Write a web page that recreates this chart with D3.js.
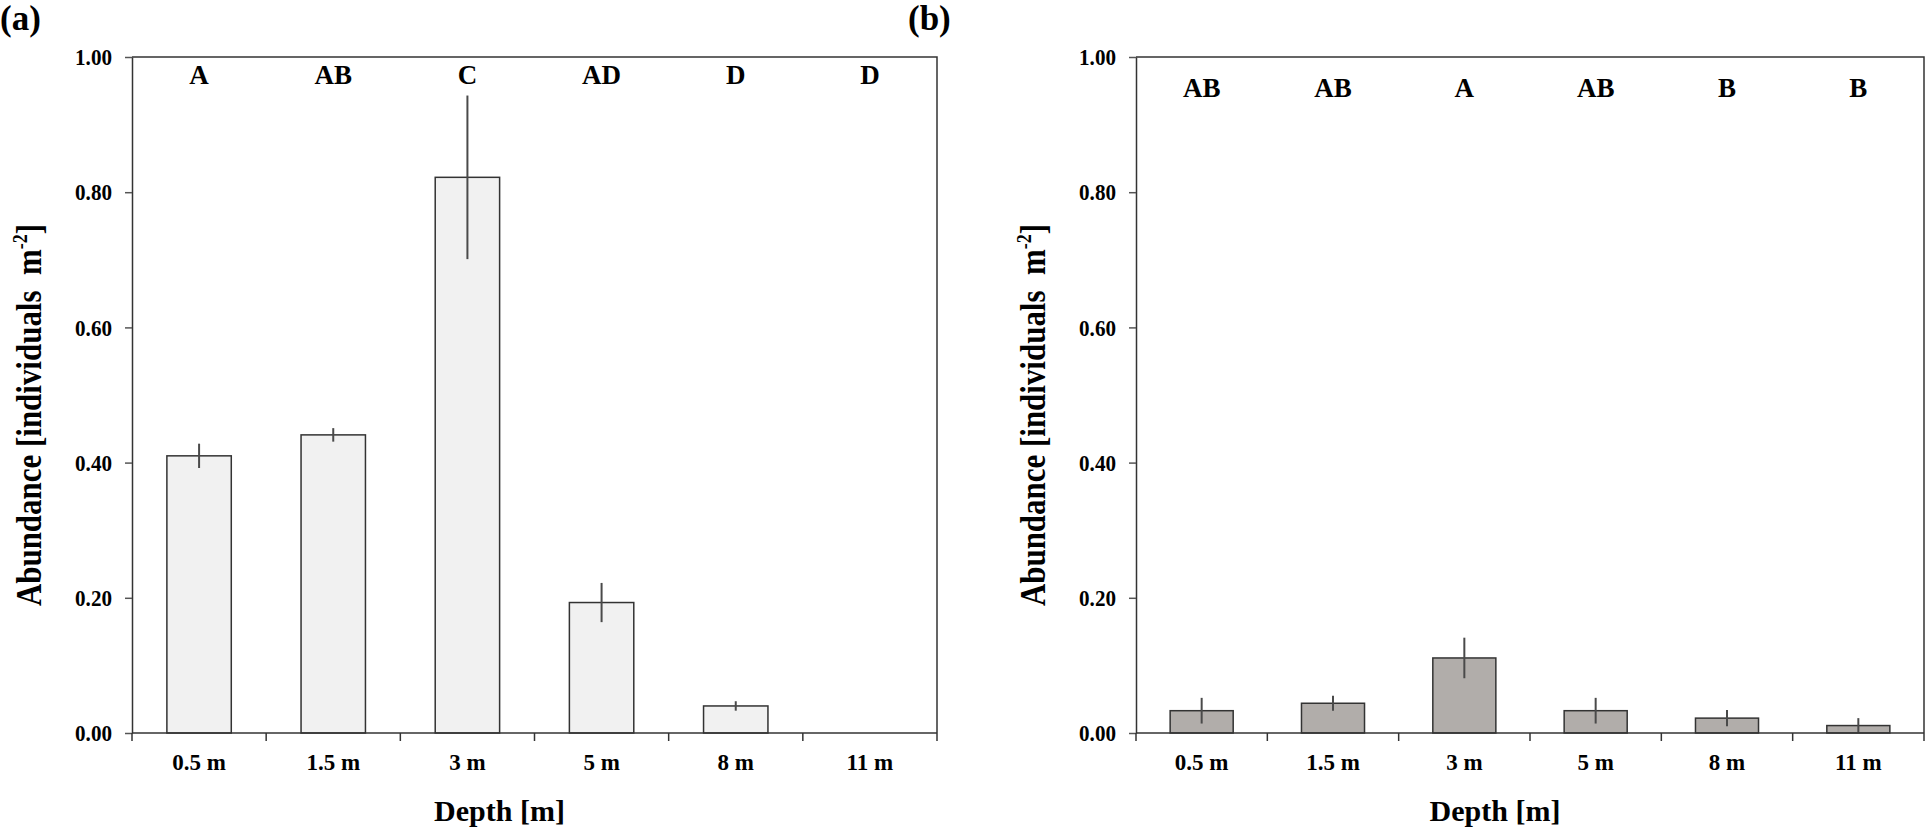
<!DOCTYPE html>
<meta charset="utf-8">
<title>Abundance by depth</title>
<style>
  html, body { margin: 0; padding: 0; background: #fff; }
  svg { display: block; }
  text {
    font-family: 'Liberation Serif', 'Times New Roman', serif;
    font-weight: bold;
    fill: #000;
  }
  .axis path, .axis line { stroke: #333; stroke-width: 1.5px; }
  .axis .tick line { stroke: #555; }
  .axis text { font-size: 23px; }
  .axis.y text { font-size: 24px; }
  .frame { fill: none; stroke: #333; stroke-width: 1.5px; }
  .bar { stroke: #333; stroke-width: 1.5px; }
  .err { stroke: #4a4a4a; stroke-width: 2px; }
  .letter { font-size: 27px; text-anchor: middle; }
  .title { font-size: 30px; text-anchor: middle; }
  .ytitle { font-size: 36px; text-anchor: middle; }
  .panel { font-size: 35px; }
</style>
<svg width="1926" height="830"></svg>
<script src="https://cdn.jsdelivr.net/npm/d3@7"></script>
<script>
  /* global d3 */
  'use strict'

  const depths = ['0.5 m', '1.5 m', '3 m', '5 m', '8 m', '11 m']
  const yTicks = [0, 0.2, 0.4, 0.6, 0.8, 1.0]

  // (a) light bars
  const meanA = [0.410, 0.441, 0.822, 0.193, 0.040, 0]
  const errA = [0.018, 0.010, 0.121, 0.029, 0.007, 0]
  const lettersA = ['A', 'AB', 'C', 'AD', 'D', 'D']

  // (b) dark bars
  const meanB = [0.033, 0.044, 0.111, 0.033, 0.022, 0.011]
  const errB = [0.019, 0.011, 0.030, 0.019, 0.012, 0.011]
  const lettersB = ['AB', 'AB', 'A', 'AB', 'B', 'B']

  const svg = d3.select('svg')
  const narrow = 0.88  // the original's serif type is a bit condensed

  function drawPanel(opt) {
    const { left, right, top, bottom } = opt

    let x = d3.scaleBand().domain(depths).range([left, right]).padding(0)
    let y = d3.scaleLinear().domain([0, 1]).range([bottom, top])
    const barW = x.bandwidth() * 0.48
    const mid = d => x(d) + x.bandwidth() / 2

    let g = svg.append('g')

    // top + right border of the plot box
    g.append('path')
      .attr('class', 'frame')
      .attr('d', `M${left},${top}H${right}V${bottom}`)

    g.selectAll('.bar')
      .data(depths)
      .enter().append('rect')
      .attr('class', 'bar')
      .attr('x', d => x(d) + (x.bandwidth() - barW) / 2)
      .attr('width', barW)
      .attr('y', (d, i) => y(opt.mean[i]))
      .attr('height', (d, i) => y(0) - y(opt.mean[i]))
      .attr('fill', opt.fill)

    let errs = depths.map((d, i) => ({ d, m: opt.mean[i], e: opt.err[i] }))
      .filter(o => o.e > 0)
    g.selectAll('.err')
      .data(errs)
      .enter().append('line')
      .attr('class', 'err')
      .attr('x1', o => mid(o.d))
      .attr('x2', o => mid(o.d))
      .attr('y1', o => y(o.m + o.e))
      .attr('y2', o => y(o.m - o.e))

    g.selectAll('.letter')
      .data(depths)
      .enter().append('text')
      .attr('class', 'letter')
      .attr('x', mid)
      .attr('y', opt.letterY)
      .text((d, i) => opt.letters[i])

    let ya = g.append('g')
      .attr('class', 'axis y')
      .attr('transform', `translate(${left},0)`)
      .call(d3.axisLeft(y).tickValues(yTicks).tickFormat(d3.format('.2f'))
        .tickSize(7).tickSizeOuter(0).tickPadding(13))
    ya.selectAll('.tick text')
      .attr('x', -20 / narrow)
      .attr('transform', `scale(${narrow},1)`)

    let xa = g.append('g')
      .attr('class', 'axis')
      .attr('transform', `translate(0,${bottom})`)
      .call(d3.axisBottom(x).tickSize(0).tickPadding(21))
    // ticks sit between categories, not under them
    xa.selectAll('.edge')
      .data(depths.map(d => x(d)).concat(x.range()[1]))
      .enter().append('line')
      .attr('class', 'edge')
      .attr('x1', d => d).attr('x2', d => d)
      .attr('y1', 0).attr('y2', 8)
      .attr('stroke', '#555').attr('stroke-width', 1.5)
    xa.select('.domain').attr('d', `M${left},0H${right}`)

    g.append('text')
      .attr('class', 'title')
      .attr('x', (left + right) / 2 - 35)
      .attr('y', 821)
      .text('Depth [m]')

    let yt = g.append('text')
      .attr('class', 'ytitle')
      .attr('transform', `translate(${left - 91},${(top + bottom) / 2 + 20}) rotate(-90) scale(0.86,1)`)
    yt.append('tspan').text('Abundance [individuals\u00a0\u00a0m')
    yt.append('tspan').attr('dy', -14).style('font-size', '21px').text('-2')
    yt.append('tspan').attr('dy', 14).text(']')

    g.append('text')
      .attr('class', 'panel')
      .attr('x', opt.labelX)
      .attr('y', 30)
      .text(opt.label)
  }

  drawPanel({
    left: 132, right: 937, top: 57, bottom: 733,
    mean: meanA, err: errA, letters: lettersA, letterY: 84,
    fill: '#f1f1f1', label: '(a)', labelX: 0,
  })
  drawPanel({
    left: 1136, right: 1924, top: 57, bottom: 733,
    mean: meanB, err: errB, letters: lettersB, letterY: 97,
    fill: '#b1adaa', label: '(b)', labelX: 908,
  })
</script>
